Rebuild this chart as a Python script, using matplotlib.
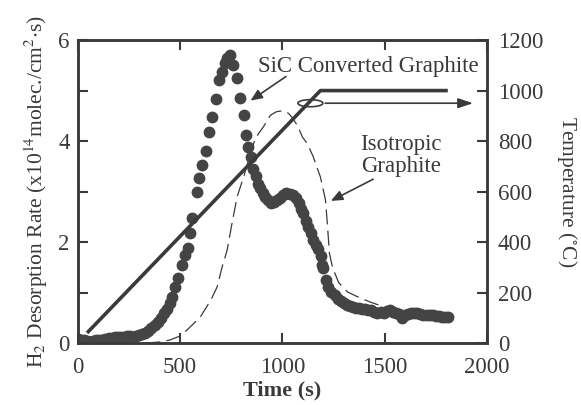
import numpy as np
import matplotlib
matplotlib.use("Agg")
import matplotlib.pyplot as plt
from matplotlib.patches import Ellipse

plt.rcParams['font.family'] = ['Liberation Serif', 'DejaVu Serif']
plt.rcParams['mathtext.fontset'] = 'stix'

# SiC converted graphite, H2 desorption rate (x1e14 molec./cm2/s)
sic_time = [0, 15, 30, 45, 60, 75, 90, 105, 120, 135, 150, 165, 180, 195, 210,
            225, 240, 255, 270, 285, 300, 315, 330, 345, 360, 375, 390, 405,
            420, 435, 450, 462, 475, 490, 509, 524, 539, 549, 559, 583, 593,
            608, 627, 642, 657, 676, 691, 706, 720, 730, 745, 760, 779, 794,
            814, 824, 833, 845, 858, 870, 882, 892, 905, 917, 930, 945, 960,
            975, 990, 1005, 1020, 1035, 1050, 1065, 1080, 1092, 1103, 1115,
            1127, 1140, 1152, 1164, 1176, 1188, 1196, 1201, 1211, 1225, 1240,
            1255, 1270, 1285, 1300, 1315, 1330, 1345, 1360, 1375, 1390, 1405,
            1420, 1435, 1450, 1465, 1480, 1495, 1510, 1525, 1540, 1555, 1570,
            1585, 1600, 1615, 1630, 1645, 1660, 1675, 1690, 1705, 1720, 1735,
            1750, 1765, 1780, 1795, 1809]
sic_rate = [0.08, 0.07, 0.06, 0.05, 0.03, 0.05, 0.06, 0.06, 0.07, 0.08, 0.09,
            0.10, 0.11, 0.12, 0.12, 0.12, 0.13, 0.13, 0.12, 0.13, 0.15, 0.17,
            0.20, 0.24, 0.29, 0.35, 0.41, 0.50, 0.60, 0.68, 0.80, 0.91, 1.10,
            1.29, 1.54, 1.74, 1.88, 2.18, 2.47, 2.99, 3.27, 3.52, 3.80, 4.18,
            4.48, 4.83, 5.21, 5.37, 5.55, 5.64, 5.70, 5.50, 5.25, 4.85, 4.51,
            4.12, 3.88, 3.68, 3.45, 3.30, 3.15, 3.07, 2.97, 2.89, 2.83, 2.78,
            2.80, 2.84, 2.88, 2.93, 2.97, 2.96, 2.93, 2.88, 2.78, 2.65, 2.57,
            2.42, 2.30, 2.18, 2.05, 1.95, 1.86, 1.72, 1.55, 1.48, 1.25, 1.11,
            1.02, 0.95, 0.88, 0.83, 0.79, 0.76, 0.73, 0.71, 0.70, 0.69, 0.68,
            0.67, 0.65, 0.66, 0.62, 0.60, 0.62, 0.60, 0.63, 0.65, 0.62, 0.60,
            0.58, 0.50, 0.55, 0.58, 0.59, 0.60, 0.60, 0.58, 0.55, 0.55, 0.56,
            0.55, 0.54, 0.53, 0.52, 0.51, 0.51]

# isotropic graphite (dashed)
iso_time = [330, 400, 450, 500, 534, 598, 650, 681, 705, 730, 755, 779, 809,
            840, 868, 907, 941, 970, 1000, 1030, 1049, 1075, 1098, 1122, 1150,
            1186, 1211, 1221, 1230, 1245, 1275, 1319, 1382, 1431, 1480]
iso_rate = [0.0, 0.02, 0.06, 0.14, 0.26, 0.51, 0.85, 1.11, 1.50, 1.84, 2.40,
            2.90, 3.27, 3.70, 4.06, 4.28, 4.51, 4.58, 4.60, 4.55, 4.46, 4.30,
            4.08, 3.95, 3.70, 3.29, 2.83, 2.30, 1.78, 1.50, 1.20, 1.01, 0.89,
            0.81, 0.74]

# temperature program
temp_time = [45, 1186, 1809]
temp_val = [40, 1000, 1000]

fig = plt.figure(figsize=(5.81, 4.05), dpi=100)
ax = fig.add_axes([0.134, 0.153, 0.704, 0.748])
ax2 = ax.twinx()

dark = '#3a3a3a'
ax.plot(sic_time, sic_rate, 'o', ms=7.5, color='#444444', mec='#444444', zorder=3)
ax.plot(iso_time, iso_rate, color=dark, lw=0.9, dashes=(12, 5))
ax2.plot(temp_time, temp_val, color=dark, lw=2.6, solid_capstyle='butt')

ax.set_xlim(0, 2000)
ax.set_ylim(0, 6)
ax2.set_ylim(0, 1200)

ax.set_xticks([0, 500, 1000, 1500, 2000])
ax.set_yticks([0, 2, 4, 6])
ax.set_yticks([1, 3, 5], minor=True)
ax2.set_yticks([0, 200, 400, 600, 800, 1000, 1200])

for a in (ax, ax2):
    for s in a.spines.values():
        s.set_linewidth(1.8)
        s.set_color(dark)
ax.tick_params(axis='both', which='both', direction='in', length=7, width=1.5,
               labelsize=16.5, colors=dark, top=True, pad=6)
ax.tick_params(axis='x', pad=10)
ax2.tick_params(axis='y', direction='in', length=7, width=1.5, labelsize=16.5,
                colors=dark, pad=8)

ax.set_xlabel('Time (s)', fontsize=16, fontweight='bold', color=dark, labelpad=2)
ax.set_ylabel(r'H$_2$ Desorption Rate (x10$^{14}$molec./cm$^2$$\cdot$s)',
              fontsize=15.5, color=dark, labelpad=6)
ax2.set_ylabel(r'Temperature ($^{\circ}$C)', fontsize=15.5, color=dark,
               rotation=-90, labelpad=26)

# annotations
ax.text(1422, 5.47, 'SiC Converted Graphite', fontsize=16.5, ha='center',
        va='center', color=dark)
ax.annotate('', xy=(833, 4.77), xytext=(1029, 5.31),
            arrowprops=dict(arrowstyle='-|>,head_length=0.7,head_width=0.3',
                            color=dark, lw=1.2))
ax.text(1578, 3.72, 'Isotropic\nGraphite', fontsize=16.5, ha='center',
        va='center', color=dark, linespacing=1.05)
ax.annotate('', xy=(1225, 2.79), xytext=(1456, 3.27),
            arrowprops=dict(arrowstyle='-|>,head_length=0.7,head_width=0.3',
                            color=dark, lw=1.2))
ax2.add_patch(Ellipse((1137, 950), 122, 28, fill=False, ec=dark, lw=1.2))
ax2.annotate('', xy=(1946, 950), xytext=(1196, 950),
             arrowprops=dict(arrowstyle='-|>,head_length=0.9,head_width=0.3',
                             color=dark, lw=1.2), annotation_clip=False)

fig.savefig('out.png', dpi=100)
